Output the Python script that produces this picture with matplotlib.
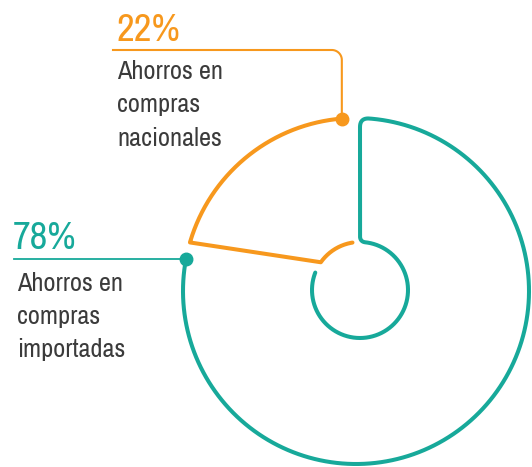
import numpy as np
import matplotlib.pyplot as plt
from matplotlib import font_manager

# share of savings, teal first (clockwise from 12 o'clock), then orange
labels = ['Ahorros en\ncompras\nimportadas', 'Ahorros en\ncompras\nnacionales']
pct = [78, 22]
pct_text = ['78%', '22%']
colors = ['#17a99a', '#f7981d']
text_color = '#3b3b3b'

# look for a narrow sans face, the reference uses a condensed grotesque
narrow = None
for f in font_manager.fontManager.ttflist:
    if ('Narrow' in f.name or 'Condensed' in f.name) and 'Bold' not in f.fname \
            and f.weight in (400, 'normal', 'regular') and f.style == 'normal':
        narrow = f.name
        break
if narrow is None:
    for f in font_manager.fontManager.ttflist:
        if f.stretch in ('condensed', 'semi-condensed') and f.style == 'normal' \
                and f.weight in (400, 'normal', 'regular'):
            narrow = f.name
            break
scale = 1.0 if narrow else 0.86
plt.rcParams['font.family'] = [narrow or 'DejaVu Sans', 'DejaVu Sans']
plt.rcParams['font.stretch'] = 'condensed'

W, H = 532, 467
fig = plt.figure(figsize=(W / 100, H / 100), dpi=100)
ax = fig.add_axes([0, 0, 1, 1])
ax.set_xlim(0, W)
ax.set_ylim(H, 0)
ax.axis('off')

# ring geometry (pixel space)
cxo, cyo, R = 356, 291, 173
cxi, cyi, r = 360, 290, 48
lw = 2.9


def arc(cx, cy, rad, a0, a1, n=300):
    t = np.radians(np.linspace(a0, a1, n))
    return cx + rad * np.cos(t), cy - rad * np.sin(t)


def bezier(p0, p1, p2, n=20):
    s = np.linspace(0, 1, n)[:, None]
    pts = (1 - s) ** 2 * np.array(p0) + 2 * (1 - s) * s * np.array(p1) + s ** 2 * np.array(p2)
    return pts[:, 0], pts[:, 1]


# boundary angles from the data
start = 90.0
b1 = start - 360 * pct[0] / 100  # end of teal, start of orange (going clockwise)

# teal segment: outer arc from left end up to top, vertical drop, inner arc
top_a = np.degrees(np.arccos((cxi - cxo) / R))
f_top, f_bot = 9, 6
corner_top = (cxi, cyo - R * np.sin(np.radians(top_a)))
corner_bot = (cxi, cyi - r)
xo, yo = arc(cxo, cyo, R, b1, top_a - np.degrees(f_top / R))
xa, ya = bezier((xo[-1], yo[-1]), corner_top, (cxi, corner_top[1] + f_top))
a_in = 90 - np.degrees(f_bot / r)
xi, yi = arc(cxi, cyi, r, a_in, b1 - 10.5)
xb, yb = bezier((cxi, corner_bot[1] - f_bot), corner_bot, (xi[0], yi[0]))
tx = np.concatenate([xo, xa, xb, xi])
ty = np.concatenate([yo, ya, yb, yi])
ax.plot(tx, ty, color=colors[0], lw=lw, solid_joinstyle='round',
        solid_capstyle='round')
teal_dot = (xo[0], yo[0])
ax.plot(*teal_dot, 'o', color=colors[0], ms=9)

# orange segment: outer arc, slanted edge, inner arc
o_out0 = b1 + 360 - 5.5
o_out1 = start + 4.7
o_in0 = o_out0 - 19
o_in1 = start + 9
x1, y1 = arc(cxo, cyo, R, o_out1, o_out0)
x2, y2 = arc(cxi, cyi, r, o_in0, o_in1)
ox = np.concatenate([x1, x2])
oy = np.concatenate([y1, y2])
ax.plot(ox, oy, color=colors[1], lw=lw, solid_joinstyle='round',
        solid_capstyle='round')
orange_dot = (x1[0], y1[0])
ax.plot(*orange_dot, 'o', color=colors[1], ms=9)

# leader lines
ax.plot([14, teal_dot[0]], [teal_dot[1], teal_dot[1]], color=colors[0], lw=1.3)

fr = 10
ly = 50
cx_, cy_ = orange_dot[0] - fr, ly + fr
t = np.radians(np.linspace(90, 0, 30))
lx = np.concatenate([[113], cx_ + fr * np.cos(t), [orange_dot[0]]])
lyy = np.concatenate([[ly], cy_ - fr * np.sin(t), [orange_dot[1]]])
ax.plot(lx, lyy, color=colors[1], lw=1.5)

# texts
ax.text(116, 41, pct_text[1], color=colors[1], fontsize=28 * scale, va='baseline')
ax.text(13, 249, pct_text[0], color=colors[0], fontsize=28 * scale, va='baseline')
for i, line in enumerate(labels[1].split('\n')):
    ax.text(117, 79 + 33.5 * i, line, color=text_color, fontsize=19 * scale,
            va='baseline')
for i, line in enumerate(labels[0].split('\n')):
    ax.text(17, 291 + 33 * i, line, color=text_color, fontsize=19 * scale,
            va='baseline')

fig.savefig('out.png', dpi=100)
